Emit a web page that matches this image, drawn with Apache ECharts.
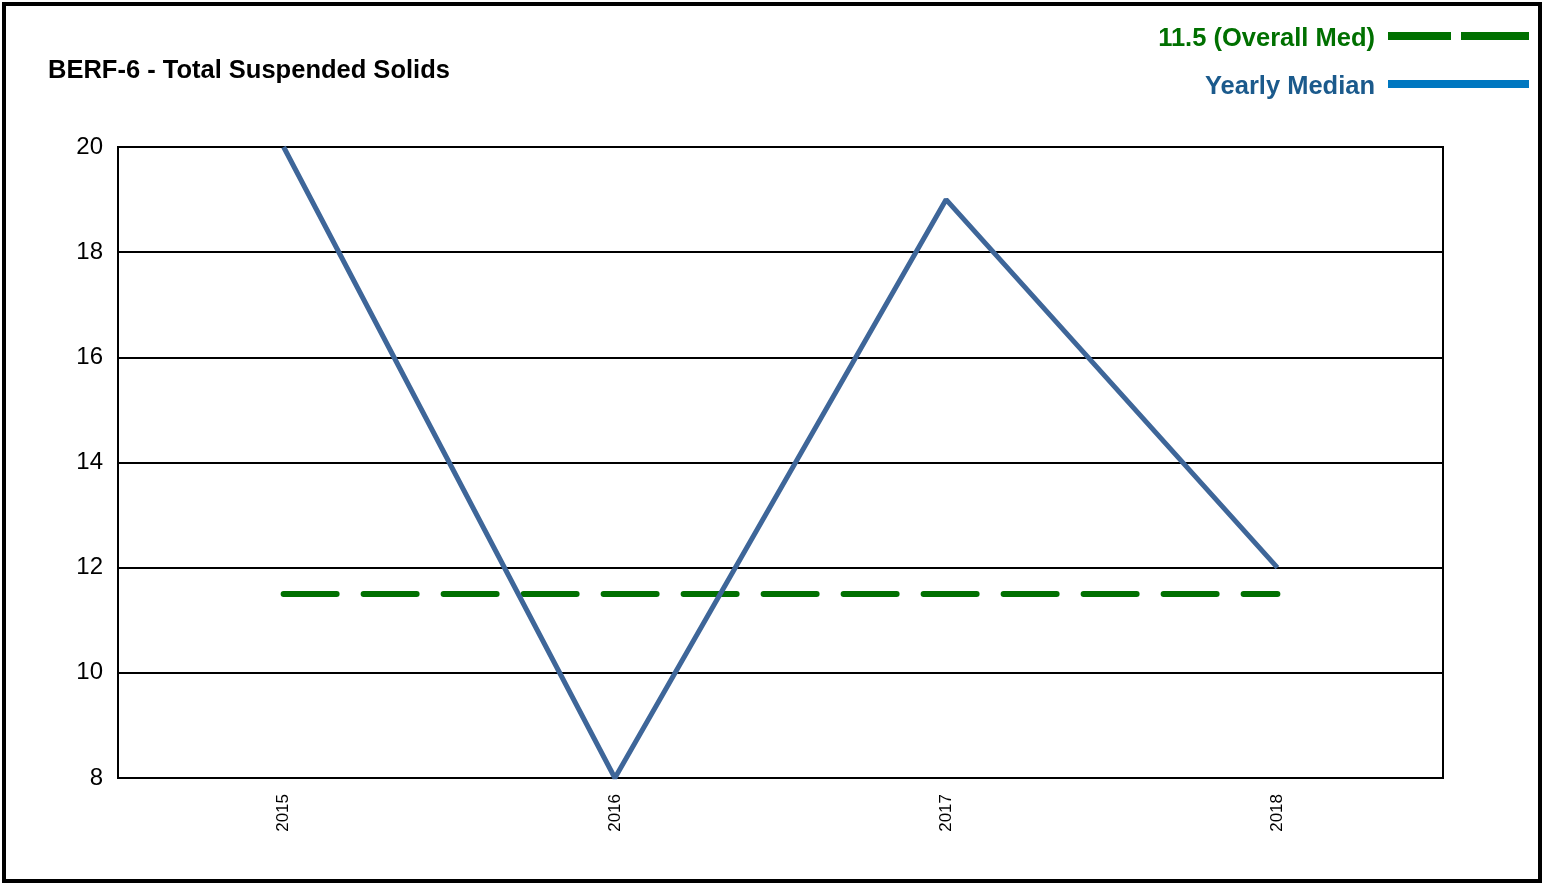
<!DOCTYPE html>
<html>
<head>
<meta charset="utf-8">
<script src="https://cdn.jsdelivr.net/npm/echarts@6/dist/echarts.min.js"></script>
<style>
html,body{margin:0;padding:0;background:#fff;}
#c{width:1546px;height:884px;}
</style>
</head>
<body>
<div id="c"></div>
<script>
const titleText = 'BERF-6 - Total Suspended Solids';
const categories = ['2015', '2016', '2017', '2018'];
const yearlyMedian = [20, 8, 19, 12];
const overallMedianValue = 11.5;
const overallMedian = [11.5, 11.5, 11.5, 11.5];
const legendLabels = ['11.5 (Overall Med)', 'Yearly Median'];
const yTicks = { min: 8, max: 20, interval: 2 };

const FONT = '"Liberation Sans", Arial, sans-serif';
const chart = echarts.init(document.getElementById('c'), null, { renderer: 'canvas' });

chart.setOption({
  backgroundColor: '#fff',
  animation: false,
  grid: {
    left: 118, right: 103, top: 147, bottom: 106,
    show: true, borderColor: '#000', borderWidth: 2, backgroundColor: 'transparent'
  },
  xAxis: {
    type: 'category',
    data: categories,
    boundaryGap: true,
    axisLine: { show: true, lineStyle: { color: '#000', width: 2 } },
    axisTick: { show: false },
    axisLabel: { rotate: 90, fontFamily: FONT, fontSize: 17, color: '#000', margin: 16 },
    splitLine: { show: false }
  },
  yAxis: {
    type: 'value',
    min: yTicks.min, max: yTicks.max, interval: yTicks.interval,
    axisLine: { show: true, lineStyle: { color: '#000', width: 2 } },
    axisTick: { show: false },
    axisLabel: { fontFamily: FONT, fontSize: 24, color: '#000', margin: 15 },
    splitLine: { show: true, lineStyle: { color: '#000', width: 2 } }
  },
  series: [
    {
      name: legendLabels[1],
      type: 'line',
      data: yearlyMedian,
      symbol: 'none',
      clip: false,
      lineStyle: { color: '#3e6699', width: 5 },
      z: 3
    },
    {
      name: legendLabels[0],
      type: 'line',
      data: overallMedian,
      symbol: 'none',
      clip: false,
      lineStyle: { color: '#007000', width: 6, type: [53, 27], cap: 'round' },
      z: 2
    }
  ],
  graphic: [
    {
      type: 'rect', silent: true, z: 100,
      shape: { x: 4, y: 4, width: 1536, height: 877 },
      style: { fill: 'none', stroke: '#000', lineWidth: 4 }
    },
    {
      type: 'text', z: 100,
      style: { text: titleText, x: 48, y: 71, align: 'left', verticalAlign: 'middle',
        font: 'bold 25.5px ' + FONT, fill: '#000' }
    },
    {
      type: 'text', z: 100,
      style: { text: legendLabels[0], x: 1375, y: 39, align: 'right', verticalAlign: 'middle',
        font: 'bold 25.5px ' + FONT, fill: '#007000' }
    },
    {
      type: 'text', z: 100,
      style: { text: legendLabels[1], x: 1375, y: 87, align: 'right', verticalAlign: 'middle',
        font: 'bold 25.5px ' + FONT, fill: '#1b5a8c' }
    },
    {
      type: 'line', z: 100,
      shape: { x1: 1388, y1: 36, x2: 1451, y2: 36 },
      style: { stroke: '#007000', lineWidth: 8 }
    },
    {
      type: 'line', z: 100,
      shape: { x1: 1461, y1: 36, x2: 1529, y2: 36 },
      style: { stroke: '#007000', lineWidth: 8 }
    },
    {
      type: 'line', z: 100,
      shape: { x1: 1388, y1: 84, x2: 1529, y2: 84 },
      style: { stroke: '#0077c0', lineWidth: 8 }
    }
  ]
});
</script>
</body>
</html>
